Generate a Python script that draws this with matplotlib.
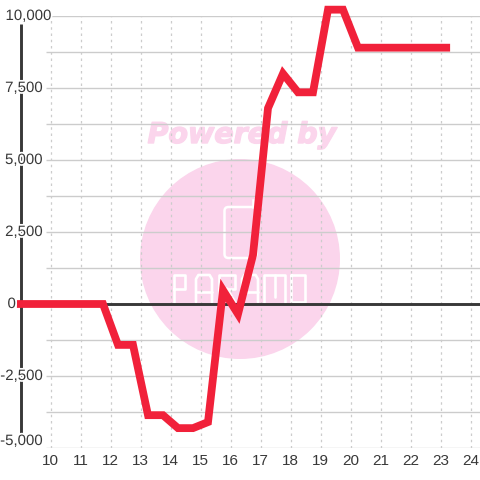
import matplotlib
matplotlib.use('Agg')
import matplotlib.pyplot as plt
import matplotlib.patheffects as pe
from matplotlib.patches import Circle, FancyBboxPatch
from matplotlib.lines import Line2D
from matplotlib.transforms import Affine2D, blended_transform_factory

# ---- data ----
x_vals = [8.88, 11.75, 12.25, 12.75, 13.25, 13.75, 14.25, 14.75, 15.25, 15.75, 16.25,
          16.75, 17.25, 17.75, 18.25, 18.75, 19.25, 19.75, 20.25, 23.32]
y_vals = [0, 0, -1420, -1420, -3860, -3860, -4310, -4310, -4100, 480, -350,
          1700, 6800, 8000, 7350, 7350, 10220, 10220, 8900, 8900]
x_ticks = [10, 11, 12, 13, 14, 15, 16, 17, 18, 19, 20, 21, 22, 23, 24]
y_labels = ['10,000', '7,500', '5,000', '2,500', '0', '-2,500', '-5,000']
y_label_vals = [10000, 7500, 5000, 2500, 0, -2500, -5000]
y_grid = [10000, 8750, 7500, 6250, 5000, 3750, 2500, 1250, -1250, -2500, -3750, -5000]

TEXT_COL = '#383838'
GRID_COL = '#cccccc'
RED = '#f1213a'
PINK = '#fbd5ec'
FONT = 'Liberation Sans'

# logo letters: strokes inside a unit box, then left edge and width in pixels
LOGO_STROKES = {
    'P': [[(0, 1), (0, 0), (1, 0), (1, .5), (0, .5)]],
    'A': [[(0, 1), (0, .15), (.15, 0), (.85, 0), (1, .15), (1, 1)], [(0, .62), (1, .62)]],
    'R': [[(0, 1), (0, 0), (1, 0), (1, .5), (0, .5)], [(.5, .5), (1, 1)]],
    'M': [[(0, 1), (0, 0), (1, 0), (1, 1)], [(.5, 0), (.5, .8)]],
    'O': [[(0, 0), (1, 0), (1, 1), (0, 1), (0, 0)]],
}
LOGO_WORD = ['P', 'A', 'R', 'A', 'M', 'O']
LOGO_LEFT = [174, 196, 219, 242, 264, 291]
LOGO_WIDTH = [11, 16, 16, 16, 21, 14]

fig = plt.figure(figsize=(4.8, 4.8), dpi=100, facecolor='white')
# axes from x=46px to right edge, y=16px (10000) to y=448px (-5000)
ax = fig.add_axes([46 / 480, (480 - 448) / 480, 434 / 480, 432 / 480])
ax.patch.set_visible(False)
ax.set_xlim(10 - 4.5 / 30, 10 + 429.5 / 30)
ax.set_ylim(-5000, 10000)
for s in ax.spines.values():
    s.set_visible(False)

# ---- watermark, behind the axes ----
px = Affine2D().scale(1, -1).translate(0, 480)   # pixel coords, y from the top
fig.patches.append(Circle((240, 259), 100, transform=px, fc=PINK, ec='none', zorder=-5))
fig.text(242 / 480, 1 - 135 / 480, 'Powered by', color=PINK, fontsize=20.5, family='DejaVu Sans',
         weight='bold', style='italic', ha='center', va='center', zorder=-4,
         path_effects=[pe.withStroke(linewidth=1.0, foreground=PINK)])
fig.patches.append(FancyBboxPatch((224.5, 207), 32, 51, boxstyle='round,pad=0,rounding_size=4',
                                  transform=px, fc='none', ec='white', lw=1.8, zorder=-3))
fig.add_artist(Line2D([253, 253], [200, 207], transform=px, color='white', lw=1.8, zorder=-3))
for letter, left, width in zip(LOGO_WORD, LOGO_LEFT, LOGO_WIDTH):
    for stroke in LOGO_STROKES[letter]:
        xs = [left + p[0] * width for p in stroke]
        ys = [275 + p[1] * 27 for p in stroke]
        fig.add_artist(Line2D(xs, ys, transform=px, color='white', lw=1.9, zorder=-3,
                              solid_joinstyle='round', solid_capstyle='round'))

# ---- grid ----
ax.hlines(y_grid, *ax.get_xlim(), color=GRID_COL, lw=1.0, zorder=1)
ax.vlines(x_ticks, -5000, 10000, color=GRID_COL, lw=0.9, linestyles=(0, (2, 3)), zorder=1)

trans = blended_transform_factory(px, ax.transData)
# axis lines, reach out past the axes box
ax.plot([8.9, 10 + 429.5 / 30], [0, 0], color=TEXT_COL, lw=2.1, clip_on=False,
        solid_capstyle='butt', zorder=2)
ax.plot([20.5, 20.5], [-4580, 9720], transform=trans, color=TEXT_COL, lw=2.1,
        clip_on=False, solid_capstyle='butt', zorder=2)

ax.plot(x_vals, y_vals, color=RED, lw=5.6, clip_on=False, solid_joinstyle='miter',
        solid_capstyle='butt', zorder=3)

# ---- labels ----
halo = [pe.withStroke(linewidth=2.5, foreground='white')]
for val, lab in zip(y_label_vals, y_labels):
    right = {'10,000': 52, '0': 16}.get(lab, 43)
    shift = 7 if lab == '-5,000' else 0
    ax.annotate(lab, (right, val), xycoords=trans, xytext=(0, shift * 0.72),
                textcoords='offset points', ha='right', va='center', fontsize=10.8,
                family=FONT, color=TEXT_COL, path_effects=halo, zorder=4, annotation_clip=False)

ax.set_yticks([])
ax.set_xticks(x_ticks)
ax.tick_params(axis='x', length=0, pad=4.5, labelsize=11, labelcolor=TEXT_COL)
for t in ax.get_xticklabels():
    t.set_family(FONT)

fig.savefig('out.png', dpi=100)
